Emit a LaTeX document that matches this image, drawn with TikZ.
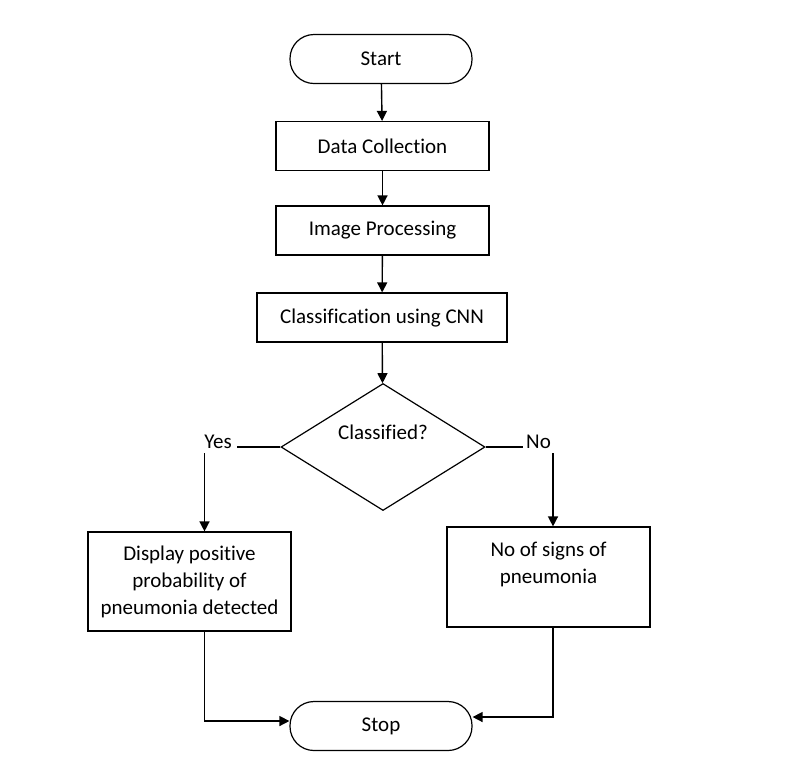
\documentclass[tikz,border=0pt]{standalone}
\usepackage{fontspec}
\setmainfont{Carlito}[Ligatures=NoCommon]
\usetikzlibrary{shapes.geometric,arrows.meta}
\tikzset{
    box/.style={draw,line width=0.6pt,align=center,inner sep=0pt},
    term/.style={box,rounded corners=12pt,minimum width=91pt,minimum height=24.5pt},
    conn/.style={line width=0.7pt,-{Triangle[length=5pt,width=5pt]}},
    lbl/.style={inner sep=0pt},
}
\begin{document}
\begin{tikzpicture}[x=0.5pt,y=-0.5pt,font=\fontsize{10.5}{13.5}\selectfont]
        \useasboundingbox (0,0) rectangle (790,778);
        \node[term] (start) at (381,59) {Start};
        \node[box,minimum width=106.5pt,minimum height=24.5pt] (data) at (382.5,146) {Data Collection};
        \node[box,minimum width=106.5pt,minimum height=24.5pt] (img) at (382.5,230.5) {Image Processing};
        \node[box,minimum width=125pt,minimum height=24.5pt] (cnn) at (382,317.5) {Classification using CNN};
        \node[box,shape=diamond,minimum width=102pt,minimum height=63.5pt] (dec) at (383,447) {};
        \node (dectext) at (383,432) {Classified?};
        \node[lbl] (lyes) at (218,442) {Yes};
        \node[lbl] (lno) at (538.5,442) {No};
        \node[box,minimum width=101.5pt,minimum height=49.5pt] (pos) at (189.5,581.5) {Display positive\\probability of\\pneumonia detected};
        \node[box,minimum width=101.5pt,minimum height=50pt] (neg) at (548.5,577) {};
        \node[align=center] (negtext) at (548.5,564) {No of signs of\\pneumonia};
        \node[term] (stop) at (381,726) {Stop};
        \coordinate (yesend) at (237,447);
        \coordinate (noend) at (523,447);
        \coordinate (yestop) at (204.5,453);
        \coordinate (notop) at (553,453);
        \draw[conn] (start) -- (data);
        \draw[conn] (data) -- (img);
        \draw[conn] (img) -- (cnn);
        \draw[conn] (cnn) -- (dec);
        \draw[line width=0.6pt] (dec.west) -- (yesend);
        \draw[line width=0.6pt] (dec.east) -- (noend);
        \draw[conn] (yestop) -- (yestop |- pos.north);
        \draw[conn] (notop) -- (notop |- neg.north);
        \draw[conn] (pos.south -| yestop) |- ([yshift=2.5pt]stop.west);
        \draw[conn] (neg.south -| notop) |- ([yshift=4.5pt]stop.east);
        \end{tikzpicture}
\end{document}
